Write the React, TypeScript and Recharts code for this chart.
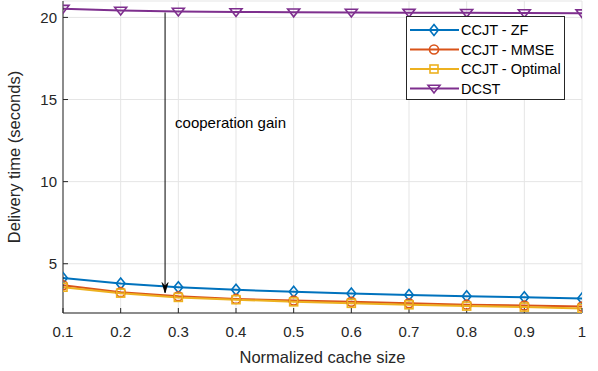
import React from 'react';
import { LineChart, Line, XAxis, YAxis, CartesianGrid, ReferenceLine, ReferenceDot } from 'recharts';

const cacheSizes = [0.1, 0.2, 0.3, 0.4, 0.5, 0.6, 0.7, 0.8, 0.9, 1];
const ccjtZF = [4.13, 3.79, 3.57, 3.41, 3.29, 3.19, 3.1, 3.02, 2.96, 2.88];
const ccjtMMSE = [3.69, 3.27, 3.02, 2.86, 2.76, 2.68, 2.59, 2.51, 2.45, 2.39];
const ccjtOptimal = [3.57, 3.21, 2.95, 2.81, 2.68, 2.59, 2.5, 2.42, 2.36, 2.28];
const dcst = [20.53, 20.42, 20.36, 20.33, 20.31, 20.3, 20.29, 20.28, 20.27, 20.26];
const xTicks = [0.1, 0.2, 0.3, 0.4, 0.5, 0.6, 0.7, 0.8, 0.9, 1];
const yTicks = [5, 10, 15, 20];
const arrowX = 0.277;
const arrowTop = 20.3;
const arrowTip = 3.24;
const annotationY = 13.55;

const data = cacheSizes.map((x, i) => ({
  x,
  zf: ccjtZF[i],
  mmse: ccjtMMSE[i],
  opt: ccjtOptimal[i],
  dcst: dcst[i],
}));

const C_ZF = '#0072BD';
const C_MMSE = '#D95319';
const C_OPT = '#EDB120';
const C_DCST = '#7E2F8E';
const FONT = '"Liberation Sans", Arial, Helvetica, sans-serif';
const AXIS = '#262626';

type Shape = 'diamond' | 'circle' | 'square' | 'tri';

function marker(shape: Shape, cx: number, cy: number, color: string, key?: any) {
  const sw = 1.6;
  if (shape === 'diamond') {
    const r = 5.5;
    return <path key={key} d={`M${cx},${cy - r}L${cx + r * 0.8},${cy}L${cx},${cy + r}L${cx - r * 0.8},${cy}Z`} fill="none" stroke={color} strokeWidth={sw} />;
  }
  if (shape === 'circle') {
    return <circle key={key} cx={cx} cy={cy} r={4.5} fill="none" stroke={color} strokeWidth={sw} />;
  }
  if (shape === 'square') {
    const r = 4;
    return <rect key={key} x={cx - r} y={cy - r} width={2 * r} height={2 * r} fill="none" stroke={color} strokeWidth={sw} />;
  }
  const r = 6;
  return <path key={key} d={`M${cx - r},${cy - r * 0.55}L${cx + r},${cy - r * 0.55}L${cx},${cy + r * 0.75}Z`} fill="none" stroke={color} strokeWidth={sw} />;
}

const makeDot = (shape: Shape, color: string) => (props: any) => {
  const { cx, cy, index } = props;
  if (cx == null || cy == null) return <g key={index} />;
  return marker(shape, cx, cy, color, index);
};

const legendItems: { label: string; color: string; shape: Shape }[] = [
  { label: 'CCJT - ZF', color: C_ZF, shape: 'diamond' },
  { label: 'CCJT - MMSE', color: C_MMSE, shape: 'circle' },
  { label: 'CCJT - Optimal', color: C_OPT, shape: 'square' },
  { label: 'DCST', color: C_DCST, shape: 'tri' },
];

const LegendBox = () => (
  <svg width={160} height={85} style={{ display: 'block' }}>
    <rect x={0.5} y={0.5} width={158} height={83} fill="#fff" stroke={AXIS} strokeWidth={1} />
    {legendItems.map((it, i) => {
      const y = 14 + i * 19.5;
      return (
        <g key={it.label}>
          <line x1={4} x2={53} y1={y} y2={y} stroke={it.color} strokeWidth={2} />
          {marker(it.shape, 28, y, it.color)}
          <text x={55} y={y + 5} fontFamily={FONT} fontSize={14.5} fill="#000">{it.label}</text>
        </g>
      );
    })}
  </svg>
);

const ArrowHead = (props: any) => {
  const { cx, cy } = props;
  if (cx == null) return <g />;
  return <path d={`M${cx},${cy}L${cx - 3},${cy - 10}L${cx},${cy - 6.5}L${cx + 3},${cy - 10}Z`} fill="#000" stroke="#000" strokeWidth={0.8} />;
};

const Annotation = (props: any) => {
  const { cx, cy } = props;
  if (cx == null) return <g />;
  return <text x={cx + 10} y={cy + 5} fontFamily={FONT} fontSize={15} fill="#000">cooperation gain</text>;
};

export default function App() {
  return (
    <div style={{ position: 'absolute', left: 0, top: 0, width: 598, height: 371, background: '#fff' }}>
      <LineChart width={598} height={371} data={data} margin={{ top: 1, right: 16, bottom: 0, left: 0 }}>
        <CartesianGrid xAxisId="b" yAxisId="l" stroke="#e5e5e5" strokeWidth={1} />
        <XAxis
          xAxisId="b"
          dataKey="x"
          type="number"
          domain={[0.1, 1]}
          ticks={xTicks}
          tickFormatter={(v: number) => String(v)}
          tick={{ fontSize: 15, fill: '#262626', fontFamily: FONT }}
          tickSize={-5}
          tickMargin={18}
          height={58}
          stroke={AXIS}
          allowDataOverflow
          label={{ value: 'Normalized cache size', position: 'insideBottom', offset: 8, fontSize: 16.5, fill: '#262626', fontFamily: FONT }}
        />
        <XAxis
          xAxisId="t"
          dataKey="x"
          type="number"
          orientation="top"
          domain={[0.1, 1]}
          ticks={xTicks}
          tickFormatter={() => ''}
          tickSize={-5}
          height={0}
          stroke={AXIS}
          allowDataOverflow
        />
        <YAxis
          yAxisId="l"
          type="number"
          domain={[2, 21]}
          ticks={yTicks}
          width={63}
          tick={{ fontSize: 15, fill: '#262626', fontFamily: FONT }}
          tickSize={-5}
          tickMargin={11}
          stroke={AXIS}
          allowDataOverflow
          label={{ value: 'Delivery time (seconds)', angle: -90, position: 'insideLeft', offset: 14, style: { textAnchor: 'middle' }, fontSize: 16.5, fill: '#262626', fontFamily: FONT }}
        />
        <YAxis
          yAxisId="r"
          orientation="right"
          type="number"
          domain={[2, 21]}
          ticks={yTicks}
          width={0}
          tickFormatter={() => ''}
          tickSize={-5}
          stroke={AXIS}
          allowDataOverflow
        />
        <ReferenceLine
          xAxisId="b"
          yAxisId="l"
          segment={[{ x: arrowX, y: arrowTop }, { x: arrowX, y: arrowTip }]}
          stroke="#000"
          strokeWidth={1}
        />
        <ReferenceDot xAxisId="b" yAxisId="l" x={arrowX} y={arrowTip} shape={ArrowHead} />
        <ReferenceDot xAxisId="b" yAxisId="l" x={arrowX} y={annotationY} shape={Annotation} />
        <Line xAxisId="b" yAxisId="l" dataKey="dcst" stroke={C_DCST} strokeWidth={2} dot={makeDot('tri', C_DCST)} isAnimationActive={false} />
        <Line xAxisId="b" yAxisId="l" dataKey="zf" stroke={C_ZF} strokeWidth={2} dot={makeDot('diamond', C_ZF)} isAnimationActive={false} />
        <Line xAxisId="b" yAxisId="l" dataKey="mmse" stroke={C_MMSE} strokeWidth={2} dot={makeDot('circle', C_MMSE)} isAnimationActive={false} />
        <Line xAxisId="b" yAxisId="l" dataKey="opt" stroke={C_OPT} strokeWidth={2} dot={makeDot('square', C_OPT)} isAnimationActive={false} />
      </LineChart>
      <div style={{ position: 'absolute', left: 406, top: 16 }}>
        <LegendBox />
      </div>
    </div>
  );
}
